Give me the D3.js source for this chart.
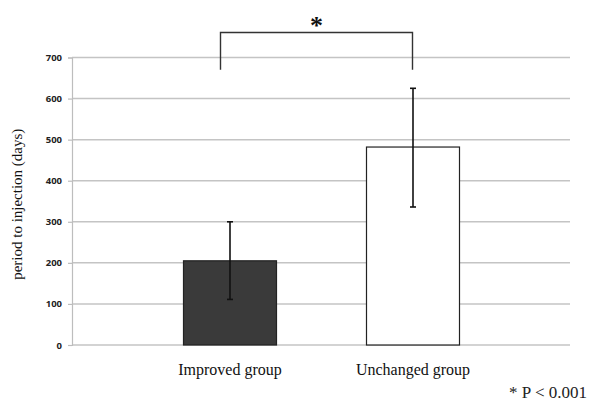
<!DOCTYPE html>
<html>
<head>
<meta charset="utf-8">
<script src="https://cdn.jsdelivr.net/npm/d3@7"></script>
<style>
  body { margin: 0; background: #fff; }
  svg { display: block; }
</style>
</head>
<body>
<div id="chart"></div>
<script>
// chart values
var groups = ["Improved group", "Unchanged group"];
var means = [205, 482];
var errLow = [111, 336];
var errHigh = [300, 625];
var barFills = ["#3a3a3a", "#ffffff"];
var yTicks = [0, 100, 200, 300, 400, 500, 600, 700];

var svgWidth = 589;
var svgHeight = 401;

var svg = d3.select("#chart")
  .append("svg")
  .attr("width", svgWidth)
  .attr("height", svgHeight);

// plot area
var plotLeft = 72, plotRight = 570;
var plotTop = 57.5, plotBottom = 345;

var yScale = d3.scaleLinear()
  .domain([0, 700])
  .range([plotBottom, plotTop]);

// bar centres (Excel-ish placement)
var xScale = d3.scalePoint()
  .domain(groups)
  .range([230, 413]);
var barWidth = 93;

// gridlines
svg.append("g")
  .selectAll("line")
  .data(yTicks)
  .enter()
  .append("line")
  .attr("x1", plotLeft)
  .attr("x2", plotRight)
  .attr("y1", d => yScale(d))
  .attr("y2", d => yScale(d))
  .attr("stroke", "#c4c4c4")
  .attr("stroke-width", 1.5);

// y axis
var leftAxis = d3.axisLeft(yScale)
  .tickValues(yTicks)
  .tickSize(4)
  .tickPadding(6);

var yAxis = svg.append("g")
  .attr("transform", `translate(${plotLeft}, 0)`)
  .call(leftAxis);

yAxis.select(".domain").attr("stroke", "#bdbdbd").attr("stroke-width", 1.2);
yAxis.selectAll(".tick line").attr("stroke", "#bdbdbd").attr("stroke-width", 1.2);
yAxis.selectAll(".tick text")
  .attr("font-family", "'Open Sans', 'DejaVu Sans', sans-serif")
  .attr("font-weight", "bold")
  .attr("font-size", "9.5px")
  .attr("fill", "#222");

// bars
svg.append("g")
  .selectAll("rect")
  .data(groups)
  .enter()
  .append("rect")
  .attr("x", d => xScale(d) - barWidth / 2)
  .attr("y", (d, i) => yScale(means[i]))
  .attr("width", barWidth)
  .attr("height", (d, i) => yScale(0) - yScale(means[i]))
  .attr("fill", (d, i) => barFills[i])
  .attr("stroke", "#222")
  .attr("stroke-width", 1.2);

// error bars
var errGroup = svg.append("g")
  .attr("stroke", "#111")
  .attr("stroke-width", 1.6);

groups.forEach(function(g, i) {
  var cx = xScale(g);
  errGroup.append("line")
    .attr("x1", cx).attr("x2", cx)
    .attr("y1", yScale(errHigh[i])).attr("y2", yScale(errLow[i]));
  errGroup.append("line")
    .attr("x1", cx - 3).attr("x2", cx + 3)
    .attr("y1", yScale(errHigh[i])).attr("y2", yScale(errHigh[i]));
  errGroup.append("line")
    .attr("x1", cx - 3).attr("x2", cx + 3)
    .attr("y1", yScale(errLow[i])).attr("y2", yScale(errLow[i]));
});

// category labels
svg.append("g")
  .selectAll("text")
  .data(groups)
  .enter()
  .append("text")
  .attr("x", d => xScale(d))
  .attr("y", 375)
  .attr("text-anchor", "middle")
  .attr("font-family", "'Liberation Serif', 'DejaVu Serif', serif")
  .attr("font-size", "16px")
  .attr("fill", "#111")
  .text(d => d);

// y axis title
svg.append("text")
  .attr("transform", `translate(22, ${(plotTop + plotBottom) / 2 + 3}) rotate(-90)`)
  .attr("text-anchor", "middle")
  .attr("font-family", "'Liberation Serif', 'DejaVu Serif', serif")
  .attr("font-size", "15px")
  .attr("fill", "#111")
  .text("period to injection (days)");

// significance bracket
var bx1 = 220.5, bx2 = 412.5;
svg.append("path")
  .attr("d", `M${bx1},${yScale(670)} V32.5 H${bx2} V${yScale(670)}`)
  .attr("fill", "none")
  .attr("stroke", "#333")
  .attr("stroke-width", 1.4);

svg.append("text")
  .attr("x", (bx1 + bx2) / 2)
  .attr("y", 34)
  .attr("text-anchor", "middle")
  .attr("font-family", "'Liberation Serif', 'DejaVu Serif', serif")
  .attr("font-size", "26px")
  .attr("font-weight", "bold")
  .attr("fill", "#111")
  .text("*");

// footnote
svg.append("text")
  .attr("x", 587)
  .attr("y", 398)
  .attr("text-anchor", "end")
  .attr("font-family", "'Liberation Serif', 'DejaVu Serif', serif")
  .attr("font-size", "17px")
  .attr("fill", "#222")
  .text("* P < 0.001");
</script>
</body>
</html>
